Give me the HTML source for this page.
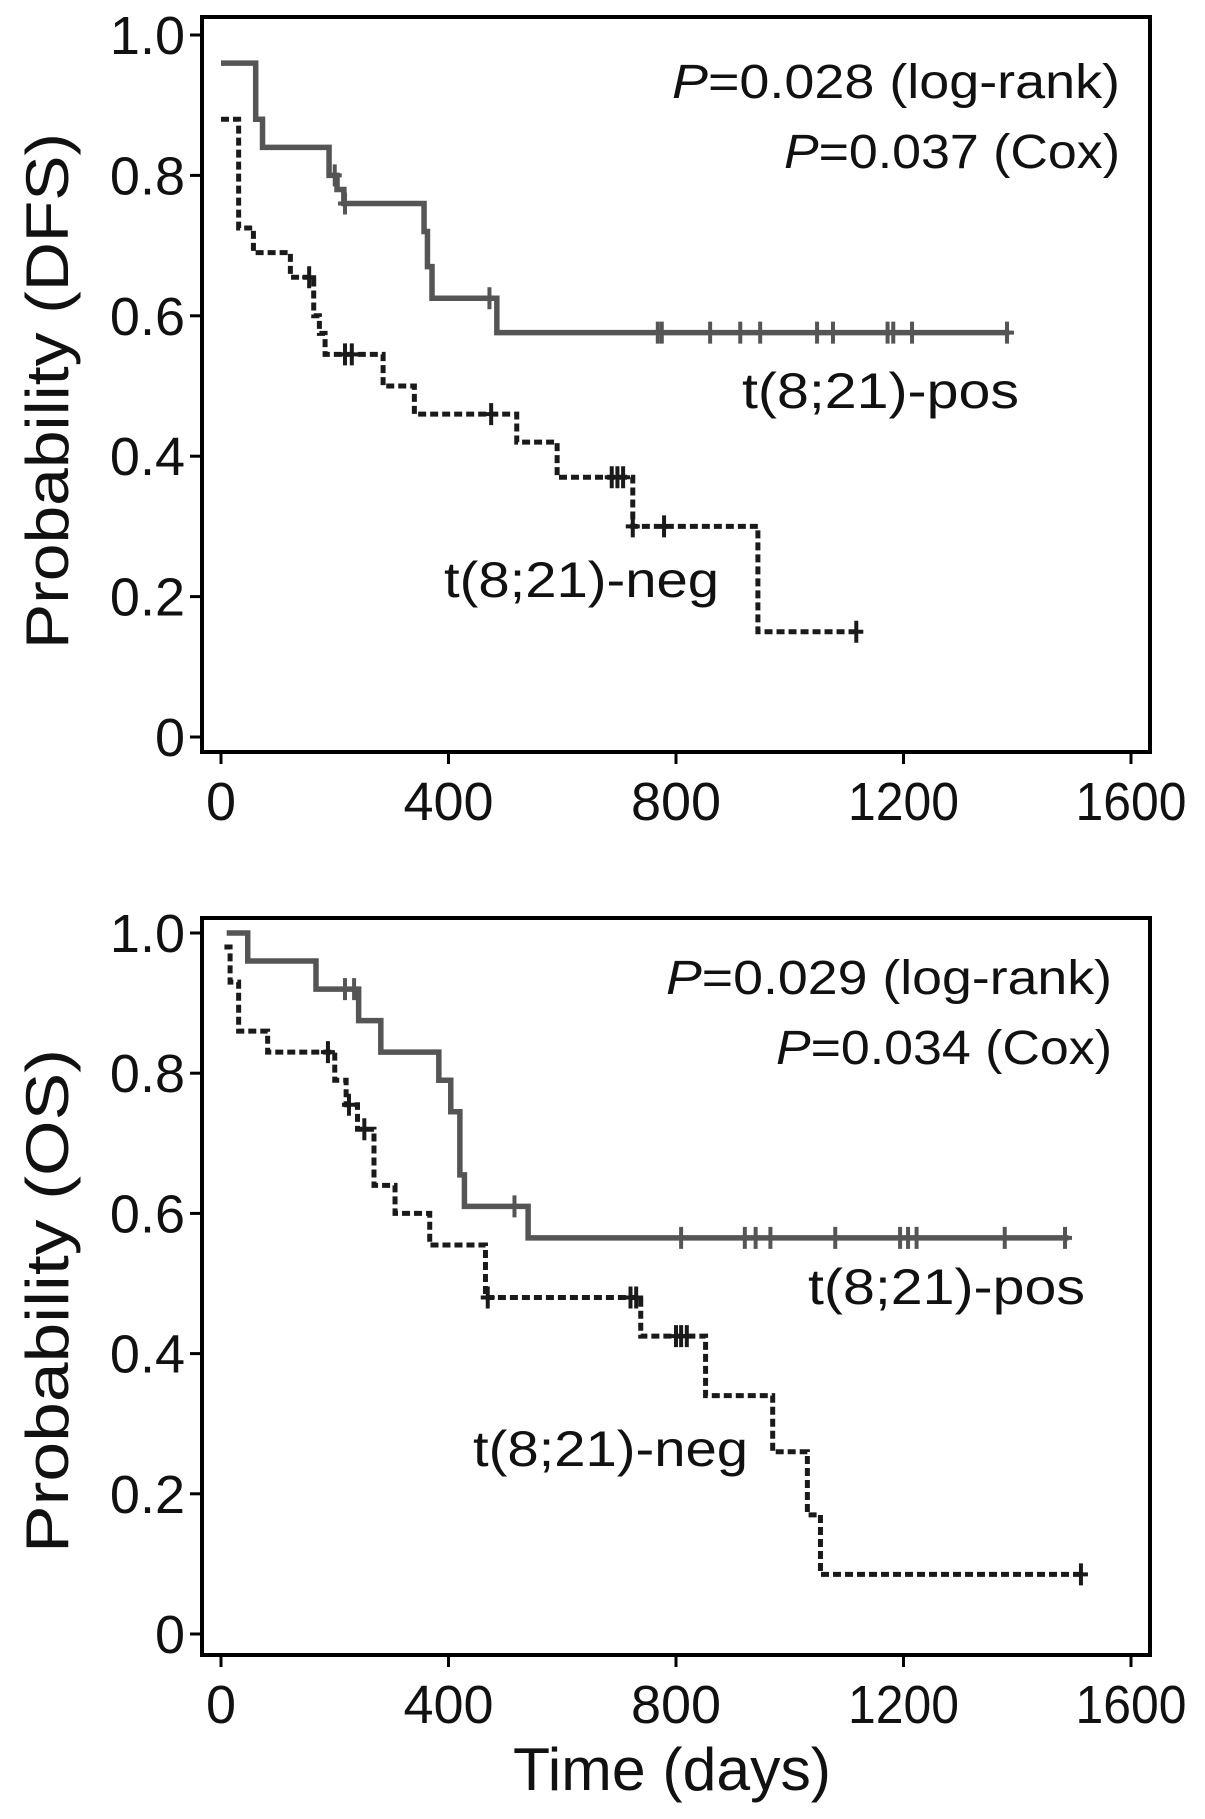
<!DOCTYPE html>
<html><head><meta charset="utf-8"><style>
html,body{margin:0;padding:0;background:#fff}
svg{display:block}
text{font-family:"Liberation Sans",sans-serif;fill:#111}
</style></head><body>
<svg id="chart" width="1205" height="1819" viewBox="0 0 1205 1819" xmlns="http://www.w3.org/2000/svg"></svg>
<script>
// ---- data ----
const xTicks = [0, 400, 800, 1200, 1600];
const yTicks = [0, 0.2, 0.4, 0.6, 0.8, 1.0];
const yTickLabels = ["0", "0.2", "0.4", "0.6", "0.8", "1.0"];

// DFS t(8;21)-pos: step times and survival after step
const dfsPosT = [0, 61, 73, 190, 204, 216, 357, 363, 371, 485, 1386];
const dfsPosS = [0.96, 0.88, 0.84, 0.80, 0.78, 0.76, 0.72, 0.67, 0.625, 0.576, 0.576];
const dfsPosCens = [200, 218, 472, 768, 775, 860, 913, 948, 1048, 1076, 1172, 1182, 1215, 1382];
// DFS t(8;21)-neg
const dfsNegT = [0, 31, 57, 122, 163, 173, 183, 285, 340, 520, 591, 724, 944, 1117];
const dfsNegS = [0.88, 0.725, 0.69, 0.655, 0.60, 0.575, 0.545, 0.50, 0.46, 0.42, 0.37, 0.30, 0.15, 0.15];
const dfsNegCens = [155, 218, 230, 475, 687, 697, 707, 724, 779, 1117];

// OS t(8;21)-pos
const osPosT = [10, 47, 167, 242, 281, 383, 404, 420, 428, 540, 1490];
const osPosS = [1.0, 0.96, 0.92, 0.875, 0.83, 0.79, 0.745, 0.655, 0.61, 0.565, 0.565];
const osPosCens = [218, 234, 516, 809, 921, 940, 966, 1080, 1194, 1208, 1223, 1378, 1484];
// OS t(8;21)-neg
const osNegT = [6, 16, 31, 82, 200, 220, 240, 269, 306, 367, 465, 738, 852, 970, 1031, 1054, 1512];
const osNegS = [0.98, 0.93, 0.86, 0.83, 0.79, 0.755, 0.72, 0.64, 0.60, 0.555, 0.48, 0.425, 0.34, 0.26, 0.17, 0.085, 0.085];
const osNegCens = [188, 225, 252, 469, 720, 730, 800, 809, 819, 1512];

const NS = "http://www.w3.org/2000/svg";
const svg = document.getElementById('chart');
function mk(tag, attrs, parent) {
  const e = document.createElementNS(NS, tag);
  for (const k in attrs) e.setAttribute(k, attrs[k]);
  (parent || svg).appendChild(e);
  return e;
}
function xScale(t) { return 221 + t * (1131 - 221) / 1600; }

function panel(cfg) {
  const g = mk('g', {});
  
  
  const y = p => cfg.y0 - p * (cfg.y0 - cfg.y1);
  const fr = mk('rect', {x: 202, y: cfg.top, width: 1150 - 202, height: cfg.bottom - cfg.top, fill: 'none', stroke: '#000', 'stroke-width': 4}, g);
  
  
  yTicks.forEach((v, i) => {
    const yy = y(v);
    const tl = mk('line', {x1: 190, x2: 202, y1: yy, y2: yy, stroke: '#000', 'stroke-width': 3}, g);
    
    
    const tx = mk('text', {x: 185, y: yy + 19, 'font-size': 54, 'text-anchor': 'end'}, g);
    tx.textContent = yTickLabels[i];
    
    
  });
  xTicks.forEach(v => {
    const xx = xScale(v);
    const tl = mk('line', {x1: xx, x2: xx, y1: cfg.bottom, y2: cfg.bottom + 12, stroke: '#000', 'stroke-width': 3}, g);
    
    
    const attrs = {x: xx, y: cfg.bottom + 68, 'font-size': 54, 'text-anchor': 'middle'};
    if (String(v).length === 4) { attrs.textLength = 111; attrs.lengthAdjust = 'spacingAndGlyphs'; }
    const tx = mk('text', attrs, g);
    tx.textContent = String(v);
    
    
  });
  function curve(T, S, C, name, style) {
    let d = 'M' + xScale(T[0]) + ',' + y(S[0]);
    for (let i = 1; i < T.length; i++) {
      d += ' H' + xScale(T[i]) + ' V' + y(S[i]);
    }
    const p = mk('path', Object.assign({d: d, fill: 'none'}, style), g);
    
    
    C.forEach(c => {
      let s = S[0];
      for (let i = 0; i < T.length; i++) if (T[i] <= c) s = S[i];
      const cx = xScale(c), cy = y(s);
      const m = mk('path', {d: 'M' + cx + ',' + (cy - 11) + ' V' + (cy + 11) + ' M' + (cx - 7) + ',' + cy + ' H' + (cx + 7), stroke: style.stroke, 'stroke-width': 4, fill: 'none'}, g);
      
      
    });
  }
  curve(cfg.posT, cfg.posS, cfg.posC, 'pos-curve', {stroke: '#555', 'stroke-width': 5.5});
  curve(cfg.negT, cfg.negS, cfg.negC, 'neg-curve', {stroke: '#1a1a1a', 'stroke-width': 5, 'stroke-dasharray': '8 4'});
  function txt(s, attrs, name) {
    const t = mk('text', attrs, g);
    t.innerHTML = s;
    
    
    return t;
  }
  txt('<tspan font-style="italic">P</tspan>=' + cfg.p1 + ' (log-rank)', {x: cfg.pR, y: cfg.p1y, 'font-size': 48, 'text-anchor': 'end', textLength: cfg.p1w, lengthAdjust: 'spacingAndGlyphs'}, 'p-value-logrank');
  txt('<tspan font-style="italic">P</tspan>=' + cfg.p2 + ' (Cox)', {x: cfg.pR, y: cfg.p2y, 'font-size': 48, 'text-anchor': 'end', textLength: cfg.p2w, lengthAdjust: 'spacingAndGlyphs'}, 'p-value-cox');
  txt('t(8;21)-pos', {x: cfg.posLx, y: cfg.posLy, 'font-size': 50, textLength: 277, lengthAdjust: 'spacingAndGlyphs'}, 'pos-label');
  txt('t(8;21)-neg', {x: cfg.negLx, y: cfg.negLy, 'font-size': 50, textLength: 275, lengthAdjust: 'spacingAndGlyphs'}, 'neg-label');
  txt(cfg.ylabel, {x: 0, y: 0, 'font-size': 60, 'text-anchor': 'middle', textLength: cfg.ylw, lengthAdjust: 'spacingAndGlyphs', transform: 'translate(68,' + cfg.ylc + ') rotate(-90)'}, 'y-axis-title');
}

panel({name: 'dfs-panel', top: 17, bottom: 752, y0: 737, y1: 35,
  posT: dfsPosT, posS: dfsPosS, posC: dfsPosCens, negT: dfsNegT, negS: dfsNegS, negC: dfsNegCens,
  p1: '0.028', p2: '0.037', pR: 1120, p1y: 98, p2y: 168, p1w: 448, p2w: 336,
  posLx: 742, posLy: 408, negLx: 444, negLy: 597, ylabel: 'Probability (DFS)', ylc: 391, ylw: 516});
panel({name: 'os-panel', top: 918, bottom: 1655, y0: 1634, y1: 933,
  posT: osPosT, posS: osPosS, posC: osPosCens, negT: osNegT, negS: osNegS, negC: osNegCens,
  p1: '0.029', p2: '0.034', pR: 1112, p1y: 994, p2y: 1064, p1w: 446, p2w: 336,
  posLx: 808, posLy: 1304, negLx: 473, negLy: 1466, ylabel: 'Probability (OS)', ylc: 1301, ylw: 504});

const xt = mk('text', {x: 672, y: 1790, 'font-size': 60, 'text-anchor': 'middle', textLength: 318, lengthAdjust: 'spacingAndGlyphs'});
xt.textContent = 'Time (days)';


</script>
</body></html>
